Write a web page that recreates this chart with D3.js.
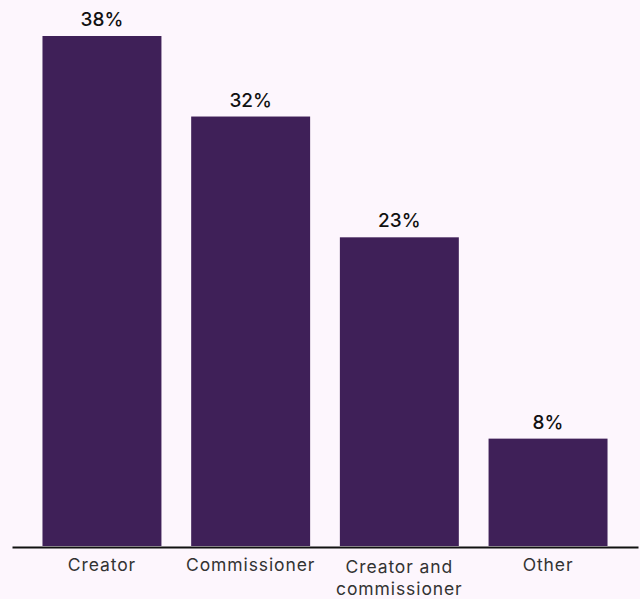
<!DOCTYPE html>
<html>
<head>
<meta charset="utf-8">
<script src="https://cdn.jsdelivr.net/npm/d3@7"></script>
<style>
  html, body { margin: 0; padding: 0; background: #fdf6fd; }
  svg { display: block; }
</style>
</head>
<body>
<svg id="chart" width="640" height="599"></svg>
<script>
// Share of respondents by role
const categories = ["Creator", "Commissioner", "Creator and commissioner", "Other"];
const categoryLines = [["Creator"], ["Commissioner"], ["Creator and", "commissioner"], ["Other"]];
const values = [38, 32, 23, 8];
const valueLabels = ["38%", "32%", "23%", "8%"];

const width = 640, height = 599;
const baseY = 546;
const svg = d3.select("#chart");

const x = d3.scaleBand()
  .domain(categories)
  .range([12, 638])
  .paddingInner(0.2)
  .paddingOuter(0.205);

const y = d3.scaleLinear()
  .domain([0, 38])
  .range([baseY, 36]);

svg.append("rect").attr("width", width).attr("height", height).attr("fill", "#fdf6fd");

svg.selectAll("rect.bar")
  .data(categories)
  .join("rect")
  .attr("class", "bar")
  .attr("x", d => x(d))
  .attr("width", x.bandwidth())
  .attr("y", (d, i) => y(values[i]))
  .attr("height", (d, i) => y(0) - y(values[i]))
  .attr("fill", "#3f2058");

svg.selectAll("text.value")
  .data(categories)
  .join("text")
  .attr("class", "value")
  .attr("x", d => x(d) + x.bandwidth() / 2)
  .attr("y", (d, i) => y(values[i]) - 10)
  .attr("text-anchor", "middle")
  .attr("font-family", "Inter, sans-serif")
  .attr("font-weight", 500)
  .attr("font-size", 19)
  .attr("fill", "#111")
  .text((d, i) => valueLabels[i]);

// baseline axis
const axis = svg.append("g")
  .attr("transform", `translate(0,${baseY + 1})`)
  .call(d3.axisBottom(x).tickSize(0).tickFormat(""));
axis.select(".domain").attr("stroke", "#111").attr("stroke-width", 2);

const labels = svg.selectAll("text.cat")
  .data(categories)
  .join("text")
  .attr("class", "cat")
  .attr("x", d => x(d) + x.bandwidth() / 2)
  .attr("y", 571)
  .attr("text-anchor", "middle")
  .attr("font-family", "Inter, sans-serif")
  .attr("font-size", 17.5)
  .attr("letter-spacing", 0.9)
  .attr("fill", "#333");

labels.each(function(d, i) {
  const lines = categoryLines[i];
  const t = d3.select(this);
  lines.forEach((ln, k) => {
    t.append("tspan")
      .attr("x", x(d) + x.bandwidth() / 2)
      .attr("dy", k === 0 ? (lines.length > 1 ? 2 : 0) : 21.5)
      .text(ln);
  });
});
</script>
</body>
</html>
